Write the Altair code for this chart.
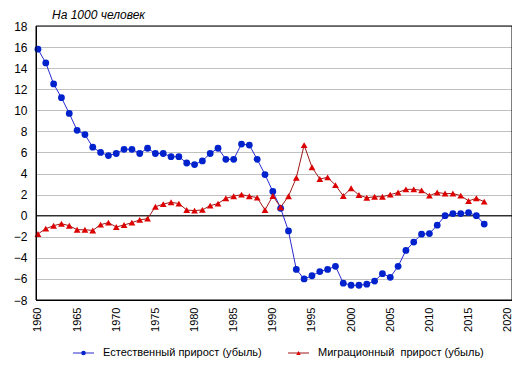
import altair as alt
import pandas as pd

years = list(range(1960, 2018))
natural = [15.8, 14.5, 12.5, 11.2, 9.7, 8.1, 7.7, 6.5, 6.0, 5.7,
           5.9, 6.3, 6.3, 5.9, 6.4, 5.9, 5.9, 5.6, 5.6, 5.0,
           4.85, 5.2, 5.9, 6.4, 5.35, 5.35, 6.8, 6.7, 5.35, 3.9,
           2.3, 0.7, -1.45, -5.1, -6.0, -5.7, -5.3, -5.1, -4.8, -6.4,
           -6.6, -6.6, -6.5, -6.2, -5.5, -5.85, -4.8, -3.3, -2.5, -1.75,
           -1.7, -0.9, 0.0, 0.2, 0.2, 0.3, 0.0, -0.8]
migration = [-1.74, -1.23, -0.95, -0.76, -0.95, -1.33, -1.33, -1.4, -0.85, -0.66,
             -1.07, -0.88, -0.66, -0.4, -0.28, 0.85, 1.1, 1.27, 1.15, 0.54,
             0.48, 0.55, 0.95, 1.15, 1.65, 1.85, 2.0, 1.85, 1.72, 0.54,
             1.87, 0.8, 1.85, 3.6, 6.7, 4.6, 3.48, 3.64, 2.9, 1.87,
             2.6, 1.96, 1.7, 1.8, 1.8, 2.0, 2.2, 2.5, 2.5, 2.4,
             1.9, 2.2, 2.1, 2.1, 1.9, 1.4, 1.65, 1.33]
series_names = ["Естественный прирост (убыль)", "Миграционный\u00a0 прирост (убыль)"]
line_colors = ["#2a2ad0", "#a01818"]
point_colors = ["#0022cc", "#dd0000"]
point_shapes = ["circle", "triangle-up"]
y_ticks = list(range(-8, 19, 2))
x_ticks = list(range(1960, 2021, 5))
x_domain = [1959.75, 2020.55]
y_domain = [-8, 18]

df = pd.concat([
    pd.DataFrame({"year": years, "value": natural, "series": series_names[0]}),
    pd.DataFrame({"year": years, "value": migration, "series": series_names[1]}),
])

FONT = "Liberation Sans"

x_scale = alt.Scale(domain=x_domain, nice=False, zero=False)
y_scale = alt.Scale(domain=y_domain, nice=False, zero=False)
x_axis = alt.Axis(values=x_ticks, format="d", labelAngle=270, labelAlign="right",
                  labelBaseline="middle", labelPadding=7, ticks=False, grid=False,
                  labelFontSize=11, labelColor="#000", labelFont=FONT,
                  domainColor="#000", title=None)
y_axis = alt.Axis(values=y_ticks, ticks=False, grid=True, gridColor="#c0c0c0",
                  labelFontSize=12, labelColor="#000", labelFont=FONT, labelPadding=9,
                  domainColor="#000", title=None)

x_enc = alt.X("year:Q", scale=x_scale, axis=x_axis)
y_enc = alt.Y("value:Q", scale=y_scale, axis=y_axis)

base = alt.Chart(df)

lines = base.mark_line(strokeWidth=1).encode(
    x=x_enc, y=y_enc,
    stroke=alt.Stroke("series:N", scale=alt.Scale(domain=series_names, range=line_colors), legend=None),
)

point_layers = []
for name, col, shp in zip(series_names, point_colors, point_shapes):
    point_layers.append(
        base.transform_filter(alt.datum.series == name).mark_point(
            shape=shp, filled=True, size=46, opacity=1, color=col
        ).encode(x=x_enc, y=y_enc)
    )

zero = alt.Chart(pd.DataFrame({"value": [0]})).mark_rule(color="#000", strokeWidth=1).encode(
    y=y_enc
)

frame = alt.Chart(pd.DataFrame({"a": [0]})).mark_rect(fill=None, stroke="#000", strokeWidth=1).encode(
    x=alt.X(datum=x_domain[0], scale=x_scale, axis=x_axis), x2=alt.X2(datum=x_domain[1]),
    y=alt.Y(datum=y_domain[0], scale=y_scale, axis=y_axis), y2=alt.Y2(datum=y_domain[1]),
)

# manual legend (below the plot area, in pixel space of the plot group)
legend_x = [37, 252]
legend_y = 327
legend_layers = []
one = pd.DataFrame({"a": [0]})
for i, name in enumerate(series_names):
    lx = legend_x[i]
    legend_layers.append(alt.Chart(one).mark_rule(color=line_colors[i], strokeWidth=1).encode(
        x=alt.value(lx), x2=alt.value(lx + 21), y=alt.value(legend_y)))
    legend_layers.append(alt.Chart(one).mark_point(
        shape=point_shapes[i], filled=True, size=20, opacity=1, color=point_colors[i]).encode(
        x=alt.value(lx + 10.5), y=alt.value(legend_y)))
    legend_layers.append(alt.Chart(one).mark_text(
        text=name, align="left", baseline="middle", font=FONT, fontSize=11, color="#000").encode(
        x=alt.value(lx + 30), y=alt.value(legend_y)))

chart = alt.layer(zero, lines, *point_layers, frame, *legend_layers).properties(
    width=476, height=274,
    autosize=alt.AutoSizeParams(type="none"),
    padding={"left": 28, "top": 18, "right": 0, "bottom": 63},
    background="white",
    title=alt.TitleParams("На 1000 человек", anchor="start", frame="group", fontStyle="italic",
                          fontWeight="normal", fontSize=12, font=FONT, color="#000", offset=0, dx=16, dy=2),
).configure_view(stroke="#000", strokeWidth=1)

chart.save("out.html", embed_options={"renderer": "svg", "actions": False})
